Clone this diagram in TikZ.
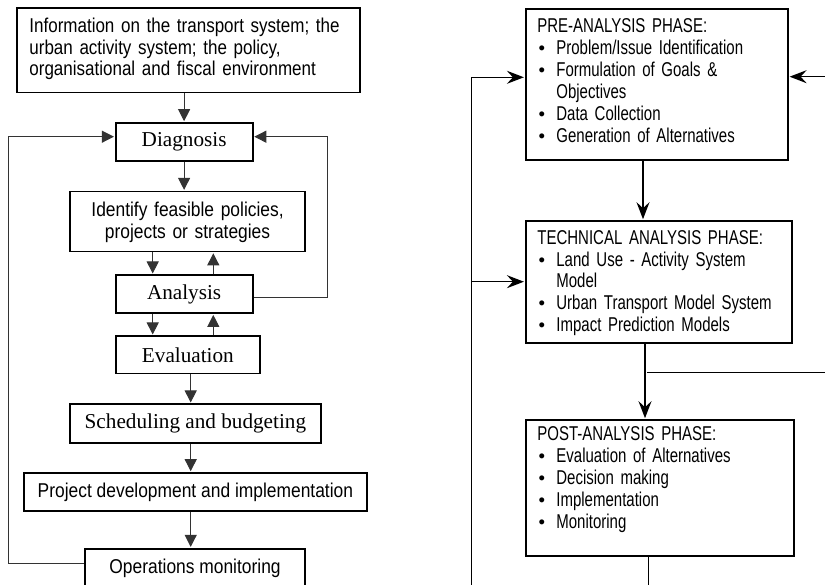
\documentclass[tikz,border=0pt]{standalone}
\usepackage{fontspec}
\usetikzlibrary{arrows.meta}
\newfontfamily\lsans[FakeStretch=0.87]{Liberation Sans}
\newfontfamily\isans[FakeStretch=0.85]{Liberation Sans}
\newfontfamily\rsans[FakeStretch=0.75]{Liberation Sans}
\newfontfamily\plainsans{Liberation Sans}
\newfontfamily\lserif{Liberation Serif}
% bullet item and continuation line for the phase boxes
\newcommand\bdot{{\plainsans\fontsize{18.5}{18}\selectfont\textbullet}}
\newcommand\bitem[1]{\makebox[19pt][l]{\hspace{1.2pt}\bdot}#1}
\newcommand\bcont[1]{\hspace*{19pt}#1}
\tikzset{
  lbox/.style={draw, line width=1.8pt, inner sep=0pt, anchor=north west},
  sbox/.style={lbox, font=\lserif\fontsize{21.2}{23}\selectfont},
  abox/.style={lbox, font=\lsans\fontsize{20}{21.5}\selectfont},
  phase/.style={draw, line width=1.8pt, anchor=north west, inner xsep=11.8pt,
    inner ysep=0pt, align=left, font=\rsans\fontsize{20}{22}\selectfont},
  tri/.style={draw=black!80, line width=1pt,
    -{Triangle[length=12pt,width=12pt]}, shorten >=0.8pt},
  rline/.style={draw, line width=1.5pt},
  stl/.style={rline, -{Stealth[length=17pt,width=13pt,inset=6pt]}, shorten >=0.8pt},
}
\begin{document}
\begin{tikzpicture}[x=1pt,y=-1pt]
\useasboundingbox (0,0) rectangle (825,585);
\clip (0,0) rectangle (825,585);

% ---- planning cycle ----
\node[abox, font=\isans\fontsize{20}{21.5}\selectfont, inner xsep=12.8pt,
  text width=317.7pt, text height=24.4pt, text depth=60pt, align=left] (info) at (15.7,7.3)
  {\mbox{Information on the transport system; the}\\
   \mbox{urban activity system; the policy,}\\
   \mbox{organisational and fiscal environment}};
\node[sbox, minimum width=137pt, minimum height=38pt] (diag) at (114.7,122) {Diagnosis};
\node[abox, inner xsep=5pt, text width=225.3pt, text height=25pt,
  text depth=35pt, align=center] (ident) at (69,190.7)
  {\fontsize{20}{21.6}\selectfont Identify feasible policies,\\ projects or strategies};
\node[sbox, minimum width=137pt, minimum height=38pt] (anal) at (114.7,274.3) {Analysis};
\node[sbox, minimum width=144.6pt, minimum height=37.4pt] (eval) at (114.7,335.3) {Evaluation};
\node[sbox, minimum width=251pt, minimum height=38.4pt] (sched) at (69,403.3) {Scheduling and budgeting};
\node[abox, minimum width=342.4pt, minimum height=38pt] (proj) at (23.3,472) {Project development and implementation};
\node[abox, minimum width=220.3pt, minimum height=40pt] (ops) at (84,547.7) {Operations monitoring};

\coordinate (dn) at (152.7,0);
\coordinate (up) at (213.3,0);
\coordinate (sp) at (190.7,0);
\draw[tri] (diag.north |- info.south) -- (diag.north);
\draw[tri] (diag.south) -- (diag.south |- ident.north);
\draw[tri] (ident.south -| dn) -- (anal.north -| dn);
\draw[tri] (anal.north -| up) -- (ident.south -| up);
\draw[tri] (anal.south -| dn) -- (eval.north -| dn);
\draw[tri] (eval.north -| up) -- (anal.south -| up);
\draw[tri] (eval.south -| sp) -- (sched.north -| sp);
\draw[tri] (sched.south -| sp) -- (proj.north -| sp);
\draw[tri] (proj.south -| sp) -- (ops.north -| sp);

% feedback loops into Diagnosis
\coordinate (loopL) at (8.3,563.3);
\coordinate (loopLtop) at (8.3,136.7);
\draw[tri] (ops.west |- loopL) -- (loopL) -- (loopLtop) -- (diag.west |- loopLtop);
\coordinate (loopR) at (327.7,297.3);
\coordinate (loopRtop) at (327.7,136.7);
\draw[tri] (anal.east |- loopR) -- (loopR) -- (loopRtop) -- (diag.east |- loopRtop);

% ---- analysis phases ----
\node[phase, text width=238.7pt, text height=23.4pt, text depth=127.3pt] (pre) at (524.7,8.3)
  {PRE-ANALYSIS PHASE:\\
   \bitem{Problem/Issue Identification}\\
   \bitem{Formulation of Goals \&}\\
   \bcont{Objectives}\\
   \bitem{Data Collection}\\
   \bitem{Generation of Alternatives}};
\node[phase, text width=243pt, text height=23.5pt, text depth=98.8pt] (tech) at (524.7,220)
  {\fontsize{20}{21.8}\selectfont TECHNICAL ANALYSIS PHASE:\\
   \bitem{Land Use - Activity System}\\
   \bcont{Model}\\
   \bitem{Urban Transport Model System}\\
   \bitem{Impact Prediction Models}};
\node[phase, text width=244.4pt, text height=20.3pt, text depth=115.7pt] (post) at (524.7,419)
  {\fontsize{20}{22.2}\selectfont POST-ANALYSIS PHASE:\\
   \bitem{Evaluation of Alternatives}\\
   \bitem{Decision making}\\
   \bitem{Implementation}\\
   \bitem{Monitoring}};

\coordinate (rA) at (643,0);
\coordinate (rB) at (645,0);
\coordinate (rC) at (648.3,0);
\draw[stl] (pre.south -| rA) -- (tech.north -| rA);
\draw[stl] (tech.south -| rB) -- (post.north -| rB);
\coordinate (postOut) at (648.3,590);
\draw[rline] (post.south -| rC) -- (postOut);

% return bus on the left
\coordinate (busBot) at (471.7,590);
\coordinate (busTop) at (471.7,77.3);
\coordinate (busTech) at (471.7,281.7);
\draw[stl] (busBot) -- (busTop) -- (pre.west |- busTop);
\draw[stl] (busTech) -- (tech.west |- busTech);

% branch and return on the right
\coordinate (tap) at (647.3,372.7);
\coordinate (fbOut) at (830,372.7);
\draw[rline] (tap) -- (fbOut);
\coordinate (fbIn) at (830,76.7);
\draw[stl] (fbIn) -- (pre.east |- fbIn);
\end{tikzpicture}
\end{document}
